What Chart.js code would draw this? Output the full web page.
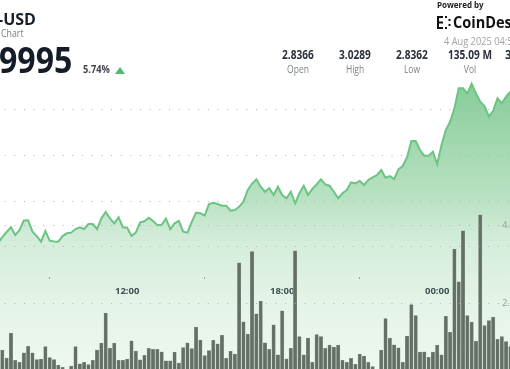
<!DOCTYPE html>
<html>
<head>
<meta charset="utf-8">
<script src="https://cdn.jsdelivr.net/npm/chart.js@4.4.0/dist/chart.umd.min.js"></script>
<style>
  html, body { margin: 0; padding: 0; }
  body { width: 510px; height: 369px; overflow: hidden; position: relative; background: #fff; font-family: 'Open Sans', sans-serif; }
  #wrap { position: absolute; left: -20px; top: 0; width: 560px; height: 400px; }
  .t { position: absolute; line-height: 1; white-space: nowrap; z-index: 2; transform-origin: left center; }
  .c { text-align: center; width: 70px; transform-origin: center center; }
  .num { font-size: 11.5px; font-weight: 700; color: #2a313c; top: 48.8px; transform: scaleX(0.88); }
  .lab { font-size: 10px; color: #7d828a; top: 63.5px; transform: scaleX(0.85); }
</style>
</head>
<body>
<div id="wrap"><canvas id="chart" width="560" height="400"></canvas></div>

<div class="t" style="left:-2px; top:11.3px; font-size:16px; font-weight:700; color:#18202c;">-USD</div>
<div class="t" style="left:1px; top:27.6px; font-size:10px; color:#7b7f86; transform:scaleX(0.88);">Chart</div>
<div class="t" style="left:-1px; top:41.5px; font-size:36px; font-weight:700; color:#141c29; transform:scaleX(0.89);">9995</div>
<div class="t" style="left:83px; top:64.2px; font-size:10px; font-weight:700; color:#3d4450; transform:scaleX(0.92);">5.74%</div>
<div style="position:absolute; left:115px; top:66.6px; width:0; height:0; border-left:5.5px solid transparent; border-right:5.5px solid transparent; border-bottom:7.5px solid #52b96a; z-index:2;"></div>

<div class="t c num" style="left:263px;">2.8366</div>
<div class="t c lab" style="left:263px;">Open</div>
<div class="t c num" style="left:320px;">3.0289</div>
<div class="t c lab" style="left:320px;">High</div>
<div class="t c num" style="left:377px;">2.8362</div>
<div class="t c lab" style="left:377px;">Low</div>
<div class="t c num" style="left:434.5px;">135.09 M</div>
<div class="t c lab" style="left:434.5px;">Vol</div>
<div class="t num" style="left:505px; transform:none;">3</div>

<div class="t" style="left:437px; top:1.2px; font-size:8px; font-weight:700; color:#222;">Powered by</div>
<svg style="position:absolute; left:437px; top:16px; z-index:2;" width="15" height="13" viewBox="0 0 15 13">
  <rect x="0" y="0" width="2" height="13" fill="#111"/>
  <rect x="0" y="0" width="6" height="2" fill="#111"/>
  <rect x="0" y="5.5" width="6" height="2" fill="#111"/>
  <rect x="0" y="11" width="6" height="2" fill="#111"/>
  <rect x="8" y="0" width="2" height="2" fill="#111"/>
  <rect x="8" y="11" width="2" height="2" fill="#111"/>
  <rect x="11.5" y="3" width="2" height="2" fill="#111"/>
  <rect x="11.5" y="8" width="2" height="2" fill="#111"/>
</svg>
<div class="t" style="left:453px; top:14.2px; font-size:16.5px; font-weight:700; color:#111; transform:scaleX(0.88);">CoinDesk</div>
<div class="t" style="left:444px; top:35px; font-size:11px; color:#a3a3a3; transform:scaleX(0.84);">4 Aug 2025 04:5</div>

<script>
// 10-minute candles starting 07:00 (3 Aug 2025), minutes since midnight
const startMinute = 420;
const stepMinutes = 10;

const priceValues = [
  2.8544, 2.8609, 2.8664, 2.8716, 2.8631, 2.8686, 2.8790, 2.8792, 2.8668, 2.8620,
  2.8558, 2.8675, 2.8569, 2.8560, 2.8558, 2.8620, 2.8650, 2.8657, 2.8697, 2.8716,
  2.8697, 2.8752, 2.8752, 2.8697, 2.8814, 2.8883, 2.8814, 2.8759, 2.8825, 2.8716,
  2.8711, 2.8620, 2.8657, 2.8770, 2.8781, 2.8821, 2.8785, 2.8738, 2.8744, 2.8810,
  2.8694, 2.8759, 2.8785, 2.8668, 2.8657, 2.8774, 2.8876, 2.8869, 2.8843, 2.8971,
  2.8985, 2.8971, 2.8952, 2.8952, 2.8897, 2.8905, 2.8941, 2.8996, 2.9124, 2.9195,
  2.9241, 2.9160, 2.9105, 2.9143, 2.9069, 2.9160, 2.9069, 2.9033, 2.9105, 2.8978,
  2.9088, 2.9171, 2.9069, 2.9135, 2.9186, 2.9241, 2.9186, 2.9171, 2.9105, 2.9033,
  2.9088, 2.9124, 2.9208, 2.9197, 2.9223, 2.9179, 2.9234, 2.9263, 2.9288, 2.9343,
  2.9259, 2.9277, 2.9244, 2.9351, 2.9387, 2.9482, 2.9661, 2.9661, 2.9562, 2.9500,
  2.9500, 2.9543, 2.9409, 2.9617, 2.9781, 2.9872, 3.0018, 3.0237, 3.0237, 3.0183,
  3.0289, 3.0183, 3.0091, 3.0044, 2.9927, 2.9992, 3.0128, 3.0073, 3.0146, 3.0200
];

// volume in millions
const volumeValues = [
  0.68, 0.79, 0.59, 1.23, 0.53, 0.48, 0.72, 0.89, 0.72, 0.55,
  0.56, 0.88, 0.60, 0.55, 0.41, 0.35, 0.28, 0.38, 0.88, 0.44,
  0.48, 0.42, 0.53, 0.79, 0.97, 1.74, 0.84, 0.97, 0.53, 0.53,
  0.56, 1.03, 0.77, 0.54, 0.66, 0.84, 0.81, 0.81, 0.75, 0.52,
  0.52, 0.74, 0.46, 0.86, 0.98, 0.83, 1.38, 1.05, 0.65, 0.78,
  1.04, 0.95, 1.17, 0.58, 0.76, 0.69, 3.03, 1.52, 1.20, 3.32,
  1.72, 2.05, 0.98, 0.81, 1.44, 0.67, 1.80, 0.57, 0.84, 3.34,
  1.14, 0.67, 1.10, 0.48, 1.19, 1.14, 0.84, 0.92, 0.87, 0.92,
  0.53, 0.48, 0.58, 0.43, 0.69, 0.64, 0.48, 0.37, 0.25, 0.79,
  1.60, 1.10, 0.93, 0.85, 0.48, 1.15, 1.96, 1.68, 0.74, 0.75,
  0.61, 0.74, 0.92, 0.67, 1.66, 1.25, 3.38, 2.54, 3.85, 1.68,
  1.51, 1.02, 4.26, 1.42, 1.55, 1.64, 1.07, 1.14, 1.01, 0.88
];

const priceTicks = [2.85, 2.90, 2.95, 3.00];
const volumeTicks = [2, 4];
const timeTickStep = 360;

const pricePoints = priceValues.map((v, i) => ({ x: startMinute + i * stepMinutes, y: v }));
const volumePoints = volumeValues.map((v, i) => ({ x: startMinute + i * stepMinutes, y: v }));

function fillGradient(context) {
  const chart = context.chart;
  const area = chart.chartArea;
  if (!area) return 'rgba(102,190,124,0.3)';
  const g = chart.ctx.createLinearGradient(0, area.top, 0, area.bottom);
  g.addColorStop(0, 'rgba(102,190,124,0.85)');
  g.addColorStop(0.16, 'rgba(102,190,124,0.75)');
  g.addColorStop(0.47, 'rgba(102,190,124,0.45)');
  g.addColorStop(0.59, 'rgba(102,190,124,0.28)');
  g.addColorStop(0.76, 'rgba(102,190,124,0.18)');
  g.addColorStop(1, 'rgba(102,190,124,0.10)');
  return g;
}

function hhmm(v) {
  const h = Math.floor(v / 60) % 24;
  const m = Math.round(v % 60);
  return String(h).padStart(2, '0') + ':' + String(m).padStart(2, '0');
}

// both y axes sit inside the plot, they must not eat any width
function flatAxis(s) {
  s.width = 0;
  s.paddingTop = 0;
  s.paddingBottom = 0;
}

const dots = { display: false, dash: [1, 8.67], dashOffset: 4.31 };

new Chart(document.getElementById('chart'), {
  type: 'bar',
  data: {
    datasets: [
      {
        type: 'bar',
        data: volumePoints,
        yAxisID: 'yv',
        backgroundColor: 'rgb(100,112,102)',
        borderColor: 'rgb(140,152,142)',
        borderWidth: 0.5,
        barThickness: 3.4,
        order: 0
      },
      {
        type: 'line',
        data: pricePoints,
        yAxisID: 'y',
        borderColor: 'rgb(108,196,130)',
        borderWidth: 2,
        pointRadius: 0,
        tension: 0,
        fill: 'start',
        backgroundColor: fillGradient,
        order: 1
      }
    ]
  },
  options: {
    responsive: false,
    animation: false,
    layout: { padding: { top: 40, bottom: 19, left: 0, right: 0 } },
    plugins: { legend: { display: false }, tooltip: { enabled: false } },
    scales: {
      x: {
        type: 'linear',
        min: 378.12,
        max: 1678.76,
        offset: false,
        position: { yv: 2.6667 },
        grid: { drawOnChartArea: false, drawTicks: true, tickLength: 2, tickColor: '#9aa0a6', tickWidth: 1 },
        border: { display: false },
        ticks: {
          stepSize: timeTickStep,
          includeBounds: false,
          autoSkip: false,
          maxRotation: 0,
          padding: 7,
          color: '#2f3744',
          font: { family: 'Open Sans', size: 9.5, weight: 'bold' },
          callback: v => hhmm(v)
        }
      },
      y: {
        position: 'left',
        min: 2.70328,
        max: 3.07664,
        afterBuildTicks: s => { s.ticks = priceTicks.map(v => ({ value: v })); },
        afterFit: flatAxis,
        grid: { color: '#b0b0b0', lineWidth: 1, drawTicks: false, z: 1 },
        border: dots,
        ticks: { display: false }
      },
      yv: {
        position: 'left',
        min: 0,
        max: 8.7436,
        afterBuildTicks: s => { s.ticks = volumeTicks.map(v => ({ value: v })); },
        afterFit: flatAxis,
        grid: { color: '#b0b0b0', lineWidth: 1, drawTicks: false, z: 1 },
        border: dots,
        ticks: {
          mirror: true,
          padding: 522,
          color: '#9a9a9a',
          font: { family: 'Open Sans', size: 9.5 },
          callback: v => v.toFixed(1) + 'M'
        }
      }
    }
  }
});
</script>
</body>
</html>
